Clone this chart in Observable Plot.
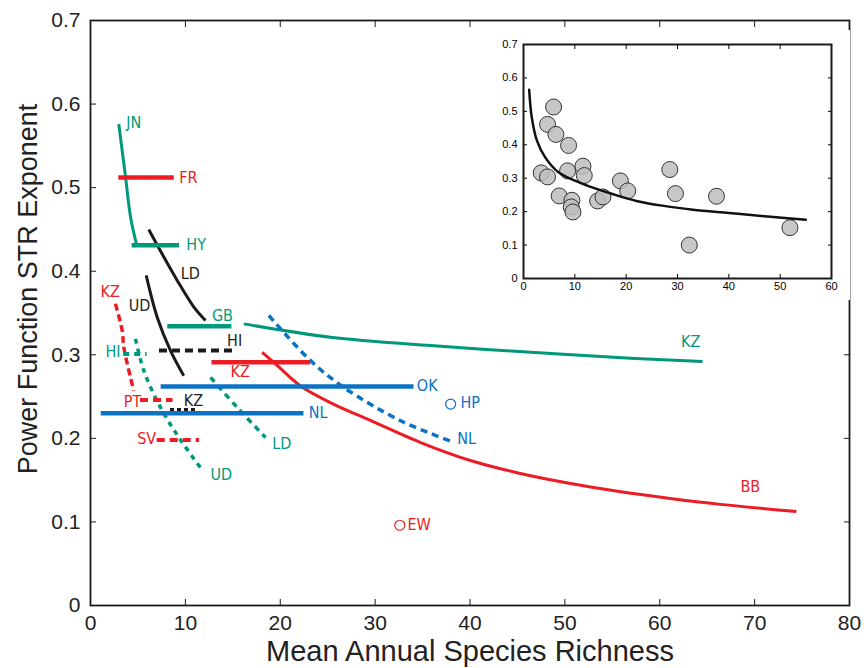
<!DOCTYPE html>
<html>
<head>
<meta charset="utf-8">
<script src="https://cdn.jsdelivr.net/npm/d3@7"></script>
<script src="https://cdn.jsdelivr.net/npm/@observablehq/plot@0.6"></script>
<style>
  html, body { margin: 0; padding: 0; background: #fff; }
  #wrap { position: relative; width: 868px; height: 668px; }
  #inset { position: absolute; left: 490px; top: 30px; }
</style>
</head>
<body>
<div id="wrap"><div id="main"></div><div id="inset"></div></div>
<script>
const GREEN = "#00987a", RED = "#ec1c24", BLUE = "#0b72c4", BLACK = "#1a1a1a";
const SANS = '"Liberation Sans", Arial, sans-serif';
const NARROW = '"Liberation Sans Narrow", "DejaVu Sans Condensed", sans-serif';

// ---- main chart data (x = mean annual species richness, y = STR exponent) ----
const xTicks = [0, 10, 20, 30, 40, 50, 60, 70, 80];
const yTicks = [0, 0.1, 0.2, 0.3, 0.4, 0.5, 0.6, 0.7];

// curves
const curveJN   = [[2.98, 0.576], [3.69, 0.513], [4.22, 0.465], [4.92, 0.429]];
const curveLDk  = [[6.14, 0.450], [7.73, 0.417], [9.14, 0.389], [10.9, 0.357], [12.12, 0.341]];
const curveUDk  = [[5.87, 0.395], [7.03, 0.345], [8.43, 0.305], [9.83, 0.275]];
const curveKZg  = [[16.16, 0.337], [25.3, 0.321], [35.8, 0.311], [46.4, 0.303], [56.9, 0.296], [64.5, 0.292]];
const curveBB   = [[18.1, 0.303], [19.7, 0.287], [22.1, 0.263], [25.6, 0.241], [29.2, 0.223], [34.8, 0.195], [40.05, 0.1735], [45.3, 0.158], [50.6, 0.146], [55.9, 0.136], [61.1, 0.128], [66.4, 0.121], [74.4, 0.1125]];
const curveNLd  = [[18.8, 0.347], [23.19, 0.293], [26.7, 0.261], [32.7, 0.221], [37.9, 0.197]];
const curveUDg  = [[4.74, 0.319], [5.62, 0.281], [7.38, 0.237], [9.49, 0.198], [11.59, 0.165]];
const curveLDg  = [[12.65, 0.273], [15.46, 0.237], [18.45, 0.201]];
const curveKZr  = [[2.63, 0.361], [3.34, 0.329], [3.51, 0.309], [4.56, 0.257]];

// horizontal bars: [x1, x2, y]
const barFR  = [2.98, 8.83, 0.512];
const barHY  = [4.39, 9.38, 0.431];
const barGB  = [8.15, 14.9, 0.334];
const barHIk = [7.27, 15.5, 0.305];
const barHIg = [3.5, 5.97, 0.301];
const barKZr = [12.8, 23.2, 0.291];
const barOK  = [7.45, 34.1, 0.262];
const barPT  = [5.27, 8.7, 0.246];
const barKZk = [8.43, 11.06, 0.234];
const barNL  = [1.13, 22.5, 0.230];
const barSV  = [7.03, 11.5, 0.198];

// single points
const pointEW = [32.6, 0.096];
const pointHP = [37.96, 0.241];

// labels: [text, x, y]
const labelsGreen = [["JN", 3.77, 0.578], ["HY", 10.1, 0.431], ["GB", 12.8, 0.347], ["HI", 1.58, 0.303], ["UD", 12.65, 0.156], ["LD", 19.15, 0.193], ["KZ", 62.25, 0.315]];
const labelsRed   = [["FR", 9.36, 0.512], ["KZ", 1.05, 0.375], ["PT", 3.5, 0.244], ["SV", 4.92, 0.199], ["KZ", 14.76, 0.279], ["BB", 68.5, 0.142], ["EW", 33.4, 0.097]];
const labelsBlue  = [["OK", 34.4, 0.263], ["NL", 23.0, 0.230], ["HP", 39.0, 0.243], ["NL", 38.65, 0.199]];
const labelsBlack = [["LD", 9.5, 0.397], ["UD", 4.04, 0.358], ["HI", 14.4, 0.317], ["KZ", 9.83, 0.245]];

// ---- inset data ----
const insetX = [3.45, 4.68, 4.68, 5.86, 6.31, 8.78, 6.96, 8.59, 9.43, 9.30, 9.63, 11.58, 11.84, 14.44, 15.48, 18.87, 20.30, 28.5, 29.6, 32.3, 37.6, 51.9];
const insetY = [0.316, 0.304, 0.461, 0.513, 0.431, 0.398, 0.247, 0.322, 0.234, 0.214, 0.199, 0.336, 0.308, 0.232, 0.244, 0.292, 0.262, 0.326, 0.254, 0.100, 0.246, 0.152];
const insetFit = [[1.1, 0.565], [1.6, 0.483], [2.6, 0.413], [4.2, 0.363], [6.8, 0.318], [11.4, 0.284], [17.9, 0.250], [22, 0.232], [27, 0.218], [33, 0.206], [40, 0.196], [47, 0.186], [55, 0.176]];
const insetXTicks = [0, 10, 20, 30, 40, 50, 60];
const insetYTicks = [0, 0.1, 0.2, 0.3, 0.4, 0.5, 0.6, 0.7];

// ---- helpers ----
const px = d => d[0], py = d => d[1];
function curve(pts, stroke, w, dash) {
  return Plot.line(pts, {x: px, y: py, stroke, strokeWidth: w, strokeDasharray: dash, curve: "catmull-rom", strokeLinecap: "butt"});
}
function bar(b, stroke, w, dash) {
  return Plot.ruleY([b], {y: d => d[2], x1: d => d[0], x2: d => d[1], stroke, strokeWidth: w, strokeDasharray: dash});
}
function labels(arr, fill) {
  return Plot.text(arr, {x: d => d[1], y: d => d[2], text: d => d[0], fill, fontSize: 16, fontFamily: NARROW, textAnchor: "start"});
}
const fmt = d => d === 0 ? "0" : d3.format(".1f")(d);

const main = Plot.plot({
  width: 868, height: 668,
  marginLeft: 90, marginRight: 19, marginTop: 20, marginBottom: 63,
  x: {domain: [0, 80], label: null},
  y: {domain: [0, 0.7], label: null},
  style: {fontFamily: SANS, background: "white"},
  marks: [
    Plot.axisX(xTicks, {anchor: "bottom", tickSize: -6, tickPadding: 16, fontSize: 21, label: null, stroke: BLACK, fill: "#222"}),
    Plot.axisX(xTicks, {anchor: "top", tickSize: -6, tickFormat: () => "", label: null, stroke: BLACK}),
    Plot.axisY(yTicks, {anchor: "left", tickSize: -6, tickPadding: 16, fontSize: 21, label: null, tickFormat: fmt, stroke: BLACK, fill: "#222"}),
    Plot.axisY(yTicks, {anchor: "right", tickSize: -6, tickFormat: () => "", label: null, stroke: BLACK}),
    Plot.frame({stroke: BLACK, strokeWidth: 1.8}),
    Plot.text(["Power Function STR Exponent"], {frameAnchor: "left", textAnchor: "middle", lineAnchor: "middle", rotate: -90, dx: -62, dy: -24, fontSize: 27, fill: "#222"}),
    Plot.text(["Mean Annual Species Richness"], {frameAnchor: "bottom", textAnchor: "middle", lineAnchor: "middle", dy: 46, fontSize: 29, fill: "#222"}),

    curve(curveJN, GREEN, 3),
    curve(curveKZg, GREEN, 3),
    curve(curveUDg, GREEN, 3.5, "5,5"),
    curve(curveLDg, GREEN, 3.5, "6,5"),
    curve(curveLDk, BLACK, 3),
    curve(curveUDk, BLACK, 3),
    curve(curveBB, RED, 3),
    curve(curveKZr, RED, 3.5, "7,4"),
    curve(curveNLd, BLUE, 3.5, "7,5"),

    bar(barFR, RED, 4.5),
    bar(barHY, GREEN, 4.5),
    bar(barGB, GREEN, 4.5),
    bar(barHIk, BLACK, 4, "8,5"),
    bar(barHIg, GREEN, 4, "6,5"),
    bar(barKZr, RED, 4.5),
    bar(barOK, BLUE, 4.5),
    bar(barPT, RED, 4, "8,5"),
    bar(barKZk, BLACK, 4, "4,3"),
    bar(barNL, BLUE, 4.5),
    bar(barSV, RED, 4, "8,5"),

    Plot.dot([pointEW], {x: px, y: py, r: 5, stroke: RED, strokeWidth: 1.2, fill: "none"}),
    Plot.dot([pointHP], {x: px, y: py, r: 5, stroke: BLUE, strokeWidth: 1.2, fill: "none"}),

    labels(labelsGreen, GREEN),
    labels(labelsRed, RED),
    labels(labelsBlue, BLUE),
    labels(labelsBlack, "#222")
  ]
});
document.getElementById("main").appendChild(main);

const insetData = insetX.map((x, i) => ({x, y: insetY[i]}));
const inset = Plot.plot({
  width: 360, height: 270,
  marginLeft: 33, marginRight: 19, marginTop: 14, marginBottom: 22,
  x: {domain: [0, 60], label: null},
  y: {domain: [0, 0.7], label: null},
  style: {fontFamily: SANS, background: "white"},
  marks: [
    Plot.axisX(insetXTicks, {anchor: "bottom", tickSize: -4, tickPadding: 8, fontSize: 11, label: null}),
    Plot.axisX(insetXTicks, {anchor: "top", tickSize: -4, tickFormat: () => "", label: null}),
    Plot.axisY(insetYTicks, {anchor: "left", tickSize: -4, tickPadding: 10, fontSize: 11, label: null, tickFormat: fmt}),
    Plot.axisY(insetYTicks, {anchor: "right", tickSize: -4, tickFormat: () => "", label: null}),
    Plot.frame({stroke: BLACK, strokeWidth: 2}),
    Plot.dot(insetData, {x: "x", y: "y", r: 8, fill: "#bdbdbd", fillOpacity: 0.85, stroke: "#333", strokeWidth: 1}),
    Plot.line(insetFit, {x: px, y: py, stroke: "#111", strokeWidth: 2.5, curve: "catmull-rom"})
  ]
});
document.getElementById("inset").appendChild(inset);
</script>
</body>
</html>
